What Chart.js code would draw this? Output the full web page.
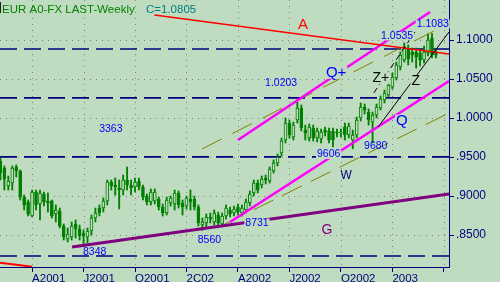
<!DOCTYPE html>
<html>
<head>
<meta charset="utf-8">
<script src="https://cdn.jsdelivr.net/npm/chart.js@4"></script>
<style>
  html, body { margin: 0; padding: 0; background: #c0dcc0; }
  #wrap { width: 500px; height: 282px; }
</style>
</head>
<body>
<div id="wrap"><canvas id="chart"></canvas></div>
<script>
// weekly candles, week 0 = early Feb 2001
const opens = [
  0.9449, 0.9359, 0.9128, 0.9167, 0.9372, 0.9321, 0.8987, 0.8923, 0.8744, 0.9052,
  0.8898, 0.9026, 0.8936, 0.8936, 0.8770, 0.8808, 0.8616, 0.8449, 0.8475, 0.8641,
  0.8577, 0.8526, 0.8475, 0.8552, 0.8718, 0.8846, 0.8846, 0.8936, 0.9180, 0.9141,
  0.9103, 0.9077, 0.9205, 0.9141, 0.9116, 0.9193, 0.9116, 0.9000, 0.8923, 0.8936,
  0.8962, 0.8859, 0.8782, 0.8911, 0.8898, 0.9039, 0.8911, 0.8872, 0.8962, 0.8962,
  0.8859, 0.8628, 0.8654, 0.8731, 0.8667, 0.8757, 0.8641, 0.8744, 0.8821, 0.8782,
  0.8859, 0.8782, 0.8821, 0.8911, 0.9039, 0.9167, 0.9141, 0.9231, 0.9193, 0.9321,
  0.9423, 0.9552, 0.9718, 0.9936, 0.9757, 0.9975, 1.0128, 0.9846, 0.9744, 0.9872,
  0.9744, 0.9731, 0.9846, 0.9834, 0.9834, 0.9821, 0.9808, 0.9885, 0.9782, 0.9718,
  0.9782, 1.0000, 1.0141, 1.0077, 0.9949, 1.0039, 1.0128, 1.0231, 1.0295, 1.0398,
  1.0513, 1.0654, 1.0744, 1.0885, 1.0846, 1.0846, 1.0834, 1.0744, 1.0834, 1.1026, 1.0834
];
const highs = [
  0.9487, 0.9385, 0.9257, 0.9385, 0.9398, 0.9334, 0.9013, 0.8949, 0.9077, 0.9077,
  0.9077, 0.9052, 0.9039, 0.8949, 0.8885, 0.8846, 0.8641, 0.8590, 0.8667, 0.8693,
  0.8628, 0.8564, 0.8590, 0.8757, 0.8846, 0.8885, 0.8975, 0.9205, 0.9205, 0.9231,
  0.9205, 0.9269, 0.9372, 0.9205, 0.9231, 0.9231, 0.9141, 0.9026, 0.9090, 0.9090,
  0.8987, 0.8898, 0.8987, 0.9000, 0.9077, 0.9064, 0.8949, 0.9000, 0.9077, 0.9000,
  0.8885, 0.8718, 0.8770, 0.8782, 0.8821, 0.8795, 0.8782, 0.8885, 0.8859, 0.8872,
  0.8898, 0.8885, 0.8962, 0.9064, 0.9205, 0.9205, 0.9257, 0.9269, 0.9372, 0.9462,
  0.9539, 0.9744, 1.0000, 0.9975, 0.9949, 1.0203, 1.0167, 0.9910, 0.9923, 0.9910,
  0.9872, 0.9859, 0.9885, 0.9872, 0.9872, 0.9859, 0.9859, 0.9936, 0.9936, 0.9846,
  1.0013, 1.0193, 1.0180, 1.0116, 1.0077, 1.0180, 1.0282, 1.0359, 1.0462, 1.0577,
  1.0718, 1.0846, 1.0962, 1.0936, 1.0898, 1.0898, 1.0872, 1.0923, 1.1077, 1.1083, 1.0872
];
const lows = [
  0.9205, 0.9077, 0.9077, 0.9077, 0.9244, 0.8949, 0.8821, 0.8744, 0.8731, 0.8821,
  0.8693, 0.8872, 0.8795, 0.8718, 0.8667, 0.8590, 0.8436, 0.8411, 0.8436, 0.8462,
  0.8436, 0.8348, 0.8398, 0.8500, 0.8667, 0.8744, 0.8795, 0.8885, 0.9077, 0.9013,
  0.8834, 0.9013, 0.9077, 0.9013, 0.9052, 0.9077, 0.8949, 0.8885, 0.8885, 0.8898,
  0.8821, 0.8744, 0.8757, 0.8872, 0.8821, 0.8846, 0.8757, 0.8834, 0.8821, 0.8821,
  0.8616, 0.8560, 0.8590, 0.8654, 0.8628, 0.8616, 0.8603, 0.8705, 0.8731, 0.8744,
  0.8757, 0.8744, 0.8782, 0.8872, 0.9000, 0.9039, 0.9103, 0.9154, 0.9167, 0.9295,
  0.9385, 0.9513, 0.9680, 0.9744, 0.9718, 0.9936, 0.9834, 0.9718, 0.9705, 0.9705,
  0.9693, 0.9680, 0.9769, 0.9680, 0.9628, 0.9757, 0.9757, 0.9718, 0.9744, 0.9606,
  0.9744, 0.9962, 1.0052, 0.9910, 0.9680, 1.0000, 1.0103, 1.0193, 1.0269, 1.0372,
  1.0487, 1.0616, 1.0718, 1.0680, 1.0718, 1.0641, 1.0667, 1.0705, 1.0795, 1.0769, 1.0769
];
const closes = [
  0.9295, 0.9218, 0.9193, 0.9359, 0.9321, 0.8987, 0.8885, 0.8770, 0.9052, 0.8885,
  0.9039, 0.8923, 0.8911, 0.8744, 0.8821, 0.8616, 0.8475, 0.8513, 0.8616, 0.8577,
  0.8487, 0.8487, 0.8552, 0.8718, 0.8782, 0.8782, 0.8936, 0.9180, 0.9128, 0.9116,
  0.9077, 0.9205, 0.9141, 0.9103, 0.9180, 0.9116, 0.8987, 0.8923, 0.9052, 0.9052,
  0.8859, 0.8782, 0.8949, 0.8975, 0.9039, 0.8885, 0.8859, 0.8975, 0.8923, 0.8859,
  0.8654, 0.8667, 0.8731, 0.8705, 0.8782, 0.8654, 0.8744, 0.8846, 0.8770, 0.8834,
  0.8795, 0.8846, 0.8923, 0.9026, 0.9167, 0.9077, 0.9218, 0.9205, 0.9346, 0.9423,
  0.9500, 0.9705, 0.9936, 0.9782, 0.9910, 1.0128, 0.9872, 0.9808, 0.9885, 0.9744,
  0.9834, 0.9821, 0.9821, 0.9718, 0.9718, 0.9808, 0.9821, 0.9782, 0.9898, 0.9782,
  0.9975, 1.0141, 1.0103, 0.9975, 1.0039, 1.0141, 1.0244, 1.0321, 1.0423, 1.0526,
  1.0680, 1.0808, 1.0910, 1.0757, 1.0808, 1.0782, 1.0744, 1.0846, 1.1000, 1.0808, 1.0805
];

const xTickWeeks = [8, 21, 34, 47, 60, 73, 86, 99, 112];
const xTickLabels = ["A2001", "J2001", "O2001", "2C02", "A2002", "J2002", "O2002", "2003", ""];
const yTickValues = [0.85, 0.9, 0.95, 1.0, 1.05, 1.1];
const yTickLabels = [".8500", ".9000", ".9500", "1.0000", "1.0500", "1.1000"];

// horizontal dashed levels
const levels = [1.0885, 1.0257, 0.9503, 0.8231];

// trend lines, [week, price] at each end
const lineA = [[38.9, 1.1321], [113.3, 1.0821]];
const lineA2 = [[-0.1, 0.8145], [8.0, 0.8094]];
const lineQplus = [[60.0, 0.9718], [108.5, 1.1359]];
const lineQ = [[58.0, 0.8667], [113.3, 1.0475]];
const oliveUp = [[50.9, 0.9603], [111.5, 1.1167]];
const oliveLow = [[56.7, 0.8641], [113.3, 1.0064]];
const lineZplus = [[94.3, 1.0321], [104.7, 1.1103]];
const lineZ = [[95.4, 0.9885], [113.3, 1.1103]];
const lineG = [[18.1, 0.8347], [113.3, 0.9026]];

const BG = "#c0dcc0";
const GREEN = "#008000";
const NAVY = "#000080";
const BLUE = "#0000ff";
const FONT = "'Liberation Sans', Arial, sans-serif";

const notes = [
  { text: "3363", x: 27.9, y: 0.9859 },
  { text: "1.0203", x: 70.9, y: 1.0449 },
  { text: "1.0535", x: 100.2, y: 1.1051, box: true },
  { text: "1.1083", x: 109.2, y: 1.1205, box: true },
  { text: "Q+", x: 84.8, y: 1.0584, size: 15, box: true },
  { text: "Q", x: 101.4, y: 0.9962, size: 15, box: true },
  { text: "Z+", x: 96.1, y: 1.0513, size: 14, color: "#000000", box: true },
  { text: "Z", x: 104.9, y: 1.0475, size: 14, color: "#000000", box: true },
  { text: "A", x: 76.4, y: 1.1193, size: 15, color: "#ff0000" },
  { text: "9606", x: 82.9, y: 0.9532, box: true },
  { text: "9680", x: 94.8, y: 0.9641 },
  { text: "W", x: 87.3, y: 0.9257, size: 12, color: NAVY },
  { text: "8731", x: 64.8, y: 0.8654, box: true },
  { text: "8560", x: 52.8, y: 0.8436 },
  { text: "8348", x: 23.8, y: 0.8276 },
  { text: "G", x: 82.5, y: 0.8564, size: 14, color: "#800080" }
];

const weeks = opens.map((_, i) => i);

function seg(pts, color, width, dash, order) {
  return {
    type: "line",
    data: pts.map((p) => ({ x: p[0], y: p[1] })),
    borderColor: color,
    borderWidth: width,
    borderDash: dash || [],
    pointRadius: 0,
    fill: false,
    order: order
  };
}

const datasets = [];
levels.forEach((v) => {
  datasets.push(seg([[-0.1, v], [113.3, v]], NAVY, 1.7, [17, 7], 6));
});
datasets.push({
  type: "bar",
  data: weeks.map((i) => ({ x: i, y: [lows[i], highs[i]] })),
  backgroundColor: GREEN,
  barThickness: 1.2,
  grouped: false,
  order: 5
});
datasets.push({
  type: "bar",
  data: weeks.map((i) => ({ x: i, y: [opens[i], closes[i]] })),
  backgroundColor: (ctx) => (closes[ctx.dataIndex] >= opens[ctx.dataIndex] ? BG : GREEN),
  borderColor: GREEN,
  borderWidth: 1,
  borderSkipped: false,
  barThickness: 3,
  minBarLength: 1,
  grouped: false,
  order: 4
});
datasets.push(seg(oliveUp, "#808000", 1, [22, 12], 3));
datasets.push(seg(oliveLow, "#808000", 1, [22, 10], 3));
datasets.push(seg(lineG, "#800080", 3, [], 2));
datasets.push(seg(lineA, "#ff0000", 1.5, [], 2));
datasets.push(seg(lineA2, "#ff0000", 2, [], 2));
datasets.push(seg(lineQplus, "#ff00ff", 2.5, [], 2));
datasets.push(seg(lineQ, "#ff00ff", 2.5, [], 2));
datasets.push(seg(lineZplus, "#000000", 1, [6, 4], 1));
datasets.push(seg(lineZ, "#000000", 1, [], 1));

const gridPlugin = {
  id: "dottedGrid",
  beforeDatasetsDraw(chart) {
    const { ctx, chartArea: a, scales } = chart;
    ctx.save();
    ctx.strokeStyle = "#808080";
    ctx.lineWidth = 1;
    ctx.setLineDash([1, 5]);
    yTickValues.forEach((v) => {
      const y = Math.round(scales.y.getPixelForValue(v)) + 0.5;
      ctx.beginPath(); ctx.moveTo(a.left, y); ctx.lineTo(a.right, y); ctx.stroke();
    });
    xTickWeeks.forEach((w) => {
      const x = Math.round(scales.x.getPixelForValue(w)) + 0.5;
      ctx.beginPath(); ctx.moveTo(x, a.top); ctx.lineTo(x, a.bottom); ctx.stroke();
    });
    ctx.restore();
  }
};

const notesPlugin = {
  id: "notes",
  afterDatasetsDraw(chart) {
    const { ctx, scales } = chart;
    ctx.save();
    ctx.textAlign = "center";
    ctx.textBaseline = "middle";
    notes.forEach((n) => {
      const size = n.size || 10.5;
      ctx.font = size + "px " + FONT;
      const x = scales.x.getPixelForValue(n.x);
      const y = scales.y.getPixelForValue(n.y);
      if (n.box) {
        const w = ctx.measureText(n.text).width;
        ctx.fillStyle = BG;
        ctx.fillRect(x - w / 2 - 1, y - size * 0.42, w + 2, size * 0.84);
      }
      ctx.fillStyle = n.color || BLUE;
      ctx.fillText(n.text, x, y);
    });
    ctx.restore();
  },
  afterDraw(chart) {
    const { ctx } = chart;
    ctx.save();
    ctx.font = "11.5px " + FONT;
    ctx.textBaseline = "alphabetic";
    ctx.fillStyle = GREEN;
    ctx.fillText("EUR A0-FX LAST-Weekly", 2, 12.5);
    ctx.fillStyle = "#008080";
    ctx.fillText("C=1.0805", 146, 12.5);
    ctx.fillStyle = "#202020";
    ctx.fillRect(0, 2, 1, 11);
    ctx.restore();
  }
};

new Chart(document.getElementById("chart"), {
  type: "bar",
  data: { datasets },
  options: {
    responsive: true,
    maintainAspectRatio: false,
    animation: false,
    events: [],
    layout: { padding: 0 },
    plugins: { legend: { display: false }, tooltip: { enabled: false } },
    scales: {
      x: {
        type: "linear",
        position: "bottom",
        min: -0.1,
        max: 113.3,
        offset: false,
        afterBuildTicks: (s) => { s.ticks = xTickWeeks.map((v) => ({ value: v })); },
        afterFit: (s) => { s.height = 15; s.paddingLeft = 0; s.paddingRight = 0; },
        grid: { drawOnChartArea: false, offset: false, tickLength: 5, tickColor: NAVY },
        border: { color: NAVY, width: 1 },
        ticks: {
          autoSkip: false,
          maxRotation: 0,
          align: "start",
          padding: 0,
          color: NAVY,
          font: { family: FONT, size: 11.5 },
          callback: (v, i) => xTickLabels[i]
        }
      },
      y: {
        type: "linear",
        position: "right",
        min: 0.8090,
        max: 1.1513,
        afterBuildTicks: (s) => { s.ticks = yTickValues.map((v) => ({ value: v })); },
        afterFit: (s) => { s.width = 51; s.paddingTop = 0; s.paddingBottom = 0; },
        grid: { drawOnChartArea: false, tickLength: 5, tickColor: NAVY },
        border: { color: NAVY, width: 1 },
        ticks: {
          autoSkip: false,
          padding: 2,
          color: NAVY,
          font: { family: FONT, size: 12 },
          callback: (v, i) => yTickLabels[i]
        }
      }
    }
  },
  plugins: [gridPlugin, notesPlugin]
});
</script>
</body>
</html>
